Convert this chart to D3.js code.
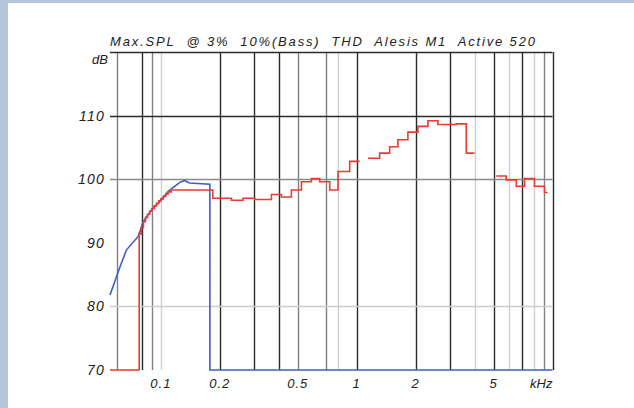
<!DOCTYPE html>
<html>
<head>
<meta charset="utf-8">
<script src="https://cdn.jsdelivr.net/npm/d3@7"></script>
<style>
  body { margin: 0; background: #fff; }
  svg text { font-family: "Liberation Sans", Arial, sans-serif; font-style: italic; fill: #222; }
</style>
</head>
<body>
<div id="chart"></div>
<script>
// Max SPL (kHz, dB)
var redFreq = [0.055, 0.0775, 0.0795, 0.0815, 0.0835, 0.0855, 0.0877, 0.0900, 0.0925, 0.0950, 0.0975, 0.1000, 0.1030, 0.1060, 0.1090, 0.1130, 0.1842, 0.2294, 0.2630, 0.3017, 0.3670, 0.4128, 0.4643, 0.5222, 0.5872, 0.6475, 0.7283, 0.8028, 0.9211, 1.036, 1.07, 1.142, 1.310, 1.474, 1.624, 1.827, 2.055, 2.311, 2.599, 3.226, 3.628, 4.0, 4.3, 5.16, 5.80, 6.53, 7.20, 8.09, 9.10, 9.43];
var redDb = [70, 91.4, 92.4, 93.3, 94.0, 94.5, 95.0, 95.4, 95.8, 96.2, 96.6, 96.9, 97.3, 97.7, 98.0, 98.3, 97.0, 96.7, 97.0, 96.8, 97.6, 97.2, 98.3, 99.6, 100.1, 99.6, 98.3, 101.2, 102.8, 102.8, null, 103.3, 104.1, 105.1, 106.2, 107.4, 108.3, 109.2, 108.6, 108.7, 104.1, 104.1, null, 100.5, 99.9, 98.9, 100.1, 98.9, 97.9, 97.9];

var blueFreq = [0.055, 0.0618, 0.0668, 0.0766, 0.0812, 0.0897, 0.0988, 0.109, 0.125, 0.132, 0.14, 0.178, 0.178, 10];
var blueDb = [81.8, 86.2, 88.9, 91.0, 93.3, 95.2, 96.5, 98.1, 99.5, 99.8, 99.4, 99.2, 70, 70];

// grid lines
var darkGrid = [0.08, 0.2, 0.3, 0.4, 1, 2, 3, 5, 7, 10];
var midGrid = [0.06, 0.09, 0.5, 0.7, 9];
var lightGrid = [0.1, 0.8, 4, 6, 8];

var xTicks = [0.1, 0.2, 0.5, 1, 2, 5];
var xTickLabels = ["0.1", "0.2", "0.5", "1", "2", "5"];
var yTicks = [70, 80, 90, 100, 110];

var title = "Max.SPL  @ 3%  10%(Bass)  THD  Alesis M1  Active 520";

var width = 634, height = 408;

var svg = d3.select("#chart").append("svg")
    .attr("width", width)
    .attr("height", height);

// light frame on the left and top
svg.append("rect").attr("x", 0).attr("y", 0).attr("width", width).attr("height", 3).attr("fill", "#b6c6da");
svg.append("rect").attr("x", 0).attr("y", 0).attr("width", 8).attr("height", height).attr("fill", "#b6c6da");

var x = d3.scaleLog().domain([0.055, 10]).range([110, 552.5]);
var y = d3.scaleLinear().domain([70, 120]).range([370, 52]);

// vertical grid
function vGrid(vals, color) {
    svg.append("g").selectAll("line")
        .data(vals)
        .enter().append("line")
        .attr("x1", function(d) { return Math.round(x(d)) + 0.5; })
        .attr("x2", function(d) { return Math.round(x(d)) + 0.5; })
        .attr("y1", y(120))
        .attr("y2", y(70))
        .attr("stroke", color)
        .attr("stroke-width", 1.4);
}
vGrid(lightGrid, "#cfcfcf");
vGrid(midGrid, "#808080");
vGrid(darkGrid, "#2a2a2a");

// horizontal grid
var hColor = { 80: "#cccccc", 100: "#8a8a8a", 110: "#2a2a2a", 120: "#2a2a2a" };
svg.append("g").selectAll("line")
    .data([80, 100, 110, 120])
    .enter().append("line")
    .attr("x1", x(0.055))
    .attr("x2", x(10))
    .attr("y1", function(d) { return Math.round(y(d)) + 0.5; })
    .attr("y2", function(d) { return Math.round(y(d)) + 0.5; })
    .attr("stroke", function(d) { return hColor[d]; })
    .attr("stroke-width", 1.4);

// curves
var blueLine = d3.line()
    .x(function(d) { return x(d[0]); })
    .y(function(d) { return y(d[1]); });

svg.append("path")
    .datum(blueFreq.map(function(f, i) { return [f, blueDb[i]]; }))
    .attr("d", blueLine)
    .attr("fill", "none")
    .attr("stroke", "#3d5ec6")
    .attr("stroke-width", 1.6);

var redLine = d3.line()
    .defined(function(d) { return d[1] !== null; })
    .curve(d3.curveStepAfter)
    .x(function(d) { return x(d[0]); })
    .y(function(d) { return y(d[1]); });

svg.append("path")
    .datum(redFreq.map(function(f, i) { return [f, redDb[i]]; }))
    .attr("d", redLine)
    .attr("fill", "none")
    .attr("stroke", "#ea3b2e")
    .attr("stroke-width", 1.6);

// y labels
svg.append("g").selectAll("text")
    .data(yTicks)
    .enter().append("text")
    .attr("x", 105)
    .attr("y", function(d) { return y(d); })
    .attr("dy", "0.36em")
    .attr("text-anchor", "end")
    .style("font-size", "14px")
    .style("letter-spacing", "1.2px")
    .text(function(d) { return d; });

svg.append("text")
    .attr("x", 108)
    .attr("y", 64)
    .attr("text-anchor", "end")
    .style("font-size", "13px")
    .text("dB");

// x labels
svg.append("g").selectAll("text")
    .data(xTicks)
    .enter().append("text")
    .attr("x", function(d) { return x(d); })
    .attr("y", 388)
    .attr("text-anchor", "middle")
    .style("font-size", "13px")
    .style("letter-spacing", "1px")
    .text(function(d, i) { return xTickLabels[i]; });

svg.append("text")
    .attr("x", x(10))
    .attr("y", 388)
    .attr("text-anchor", "end")
    .style("font-size", "13px")
    .text("kHz");

// title
svg.append("text")
    .attr("x", 110)
    .attr("y", 46)
    .attr("textLength", 425)
    .attr("lengthAdjust", "spacing")
    .style("font-size", "13px")
    .style("white-space", "pre")
    .text(title);
</script>
</body>
</html>
